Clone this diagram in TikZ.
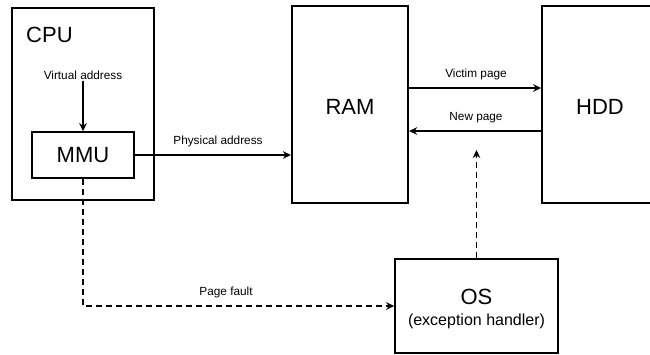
\documentclass[tikz,border=0pt]{standalone}
\usepackage{fontspec}
\setmainfont{Liberation Sans}
\usetikzlibrary{arrows.meta}
\begin{document}
\begin{tikzpicture}[x=1pt,y=-1pt,
  block/.style={draw, line width=1.6pt, rectangle, inner sep=0pt},
  big/.style={font=\fontsize{22}{26}\selectfont},
  small/.style={font=\fontsize{11.8}{14}\selectfont, inner sep=1pt},
  arr/.style={line width=1.5pt, -{Stealth[length=8pt,width=7.5pt,inset=2.5pt]}},
  dasharr/.style={arr, dash pattern=on 6pt off 4pt}]
  \useasboundingbox (0,0) rectangle (650,354);

  % hardware blocks
  \node[block, minimum width=142pt, minimum height=192pt] (cpu) at (83,104) {};
  \node[big, anchor=west, inner sep=0pt] (cpulbl) at (26,35) {CPU};
  \node[block, big, minimum width=102pt, minimum height=46pt] (mmu) at (83,155) {MMU};
  \node[block, minimum width=116.5pt, minimum height=197pt] (ram) at (350,104.5) {};
  \node[big, inner sep=0pt] (ramlbl) at (350,107) {RAM};
  \node[block, minimum width=117pt, minimum height=197pt] (hdd) at (600.5,104.5) {};
  \node[big, inner sep=0pt] (hddlbl) at (600,107) {HDD};

  % operating system
  \node[block, minimum width=163pt, minimum height=94pt] (os) at (476.5,306) {};
  \node[big, inner sep=0pt] (oslbl) at (476.5,297) {OS};
  \node[font=\fontsize{16}{19}\selectfont, inner sep=0pt] (oshandler) at (476.5,321) {(exception handler)};

  % address translation
  \node[small] (va) at (83,75) {Virtual address};
  \draw[arr] (va.south) -- (mmu.north);
  \draw[arr] (mmu.east) -- (mmu.east -| ram.west);
  \node[small] (pa) at (218,141) {Physical address};

  % paging between RAM and disk
  \draw[arr] ([yshift=16.5pt]ram.east) -- ([yshift=16.5pt]ram.east -| hdd.west);
  \node[small] (victim) at (476,74) {Victim page};
  \draw[arr] ([yshift=-26.5pt]hdd.west) -- ([yshift=-26.5pt]hdd.west -| ram.east);
  \node[small] (newpage) at (476,118) {New page};

  % page fault handling
  \coordinate (osout) at (476.5,150);
  \draw[dasharr] (os.north) -- (osout);
  \draw[dasharr] (mmu.south) -- (mmu.south |- os.west) -- (os.west);
  \node[small] (pf) at (226,292.5) {Page fault};
\end{tikzpicture}
\end{document}
